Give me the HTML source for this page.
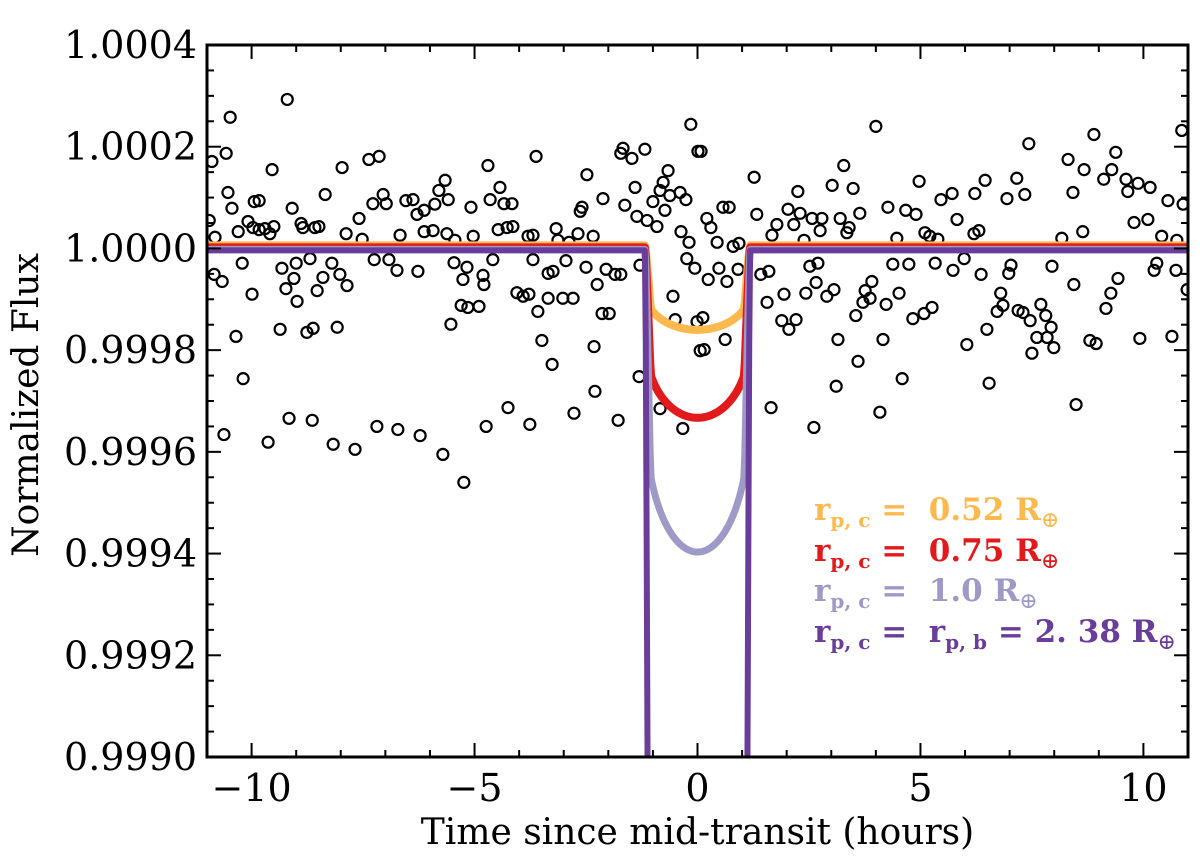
<!DOCTYPE html>
<html><head><meta charset="utf-8"><style>
html,body{margin:0;padding:0;background:#fff;width:1200px;height:863px;overflow:hidden;}
svg{display:block;}
text{font-family:"DejaVu Serif","Liberation Serif",serif;}
</style></head><body>
<svg id="chart" width="1200" height="863" viewBox="0 0 1200 863" xmlns="http://www.w3.org/2000/svg">
<g id="data-layer"></g>
<g id="model-layer"></g>
<g id="axes-layer"></g>
<g id="legend" font-weight="bold" font-size="31">
<text x="814" y="520" fill="#fdb94e">r<tspan font-size="20" dy="7">p, c</tspan><tspan dy="-7"> =&#160;&#160;0.52 R</tspan><tspan font-size="22" dy="7" font-weight="normal">⊕</tspan></text>
<text x="814" y="561" fill="#e31a1c">r<tspan font-size="20" dy="7">p, c</tspan><tspan dy="-7"> =&#160;&#160;0.75 R</tspan><tspan font-size="22" dy="7" font-weight="normal">⊕</tspan></text>
<text x="814" y="601" fill="#9e9ac8">r<tspan font-size="20" dy="7">p, c</tspan><tspan dy="-7"> =&#160;&#160;1.0 R</tspan><tspan font-size="22" dy="7" font-weight="normal">⊕</tspan></text>
<text x="814" y="642" fill="#6a3d9a">r<tspan font-size="20" dy="7">p, c</tspan><tspan dy="-7"> =&#160;&#160;r</tspan><tspan font-size="20" dy="7">p, b</tspan><tspan dy="-7"> = 2. 38 R</tspan><tspan font-size="22" dy="7" font-weight="normal">⊕</tspan></text>
</g>
</svg>
<script>
const timeHours=[-9.20,-10.48,-10.57,-10.89,-9.54,-7.97,-7.37,-7.14,-4.70,-3.62,-1.67,-1.72,-1.47,-1.18,-0.15,0.01,-2.48,-0.66,-10.53,-10.44,-9.94,-9.83,-9.09,-8.35,-7.59,-7.28,-7.05,-6.98,-6.54,-6.38,-6.29,-6.13,-5.89,-5.80,-5.66,-5.59,-5.08,-4.65,-4.43,-4.34,-4.16,-2.63,-2.59,-2.12,-1.40,-1.63,-1.36,-1.13,-0.91,-1.00,-0.84,-0.77,-0.73,-0.62,-0.39,-0.26,-0.37,-0.19,-0.24,-0.06,-10.95,-10.08,-9.97,-9.83,-9.70,-9.59,-9.50,-10.30,-10.82,-8.89,-8.85,-8.58,-8.49,-7.88,-7.52,-6.67,-6.13,-5.93,-5.62,-5.44,-5.03,-4.47,-4.27,-4.14,-3.80,-3.69,-3.17,-3.13,-2.88,-2.68,-2.34,-10.21,-10.84,-10.66,-9.32,-9.00,-9.05,-9.23,-8.98,-9.99,-8.69,-8.40,-8.53,-8.20,-8.02,-7.86,-7.25,-6.92,-6.74,-6.27,-5.46,-5.17,-5.26,-4.81,-4.79,-5.30,-5.15,-4.90,-4.59,-4.05,-3.91,-3.78,-3.69,-3.58,-3.35,-3.24,-3.35,-3.02,-2.79,-2.95,-2.50,-2.25,-2.05,-1.85,-1.72,-2.14,-1.98,-1.29,-0.55,-0.50,-0.01,-10.35,-9.36,-8.76,-8.62,-8.08,-5.53,-3.49,-2.32,-3.26,-10.19,-1.31,-2.30,-4.25,-2.77,-9.16,-8.64,-10.62,-7.19,-6.72,-6.22,-4.74,-3.76,-1.78,-9.63,-8.17,-7.68,-5.71,-5.24,-0.84,-0.33,0.06,0.08,4.00,7.43,8.89,10.86,8.31,8.67,9.38,9.29,9.11,9.61,9.65,9.88,10.15,10.55,10.89,3.28,1.27,3.02,3.49,2.25,4.97,6.45,7.16,7.34,6.22,5.71,5.46,6.94,8.42,0.57,0.71,0.21,0.30,1.33,2.03,2.30,2.16,1.78,1.67,2.57,2.79,2.75,3.20,3.40,3.35,3.64,4.27,4.67,4.90,5.82,5.10,5.21,5.39,6.20,6.31,8.64,8.17,9.79,10.10,10.41,10.75,0.44,0.80,0.93,2.39,4.47,0.24,0.48,0.66,0.91,1.42,1.60,1.56,1.94,2.52,2.70,2.66,2.43,2.90,3.06,1.89,2.21,2.05,3.91,3.76,3.87,3.71,3.55,4.23,4.52,4.38,4.74,5.33,5.73,5.98,6.36,6.98,7.03,7.95,8.44,9.43,9.27,9.16,10.24,10.30,10.73,10.98,6.80,6.85,6.72,7.19,7.30,7.46,7.70,7.81,7.93,7.61,7.84,7.99,7.50,5.26,5.08,4.83,6.49,6.04,8.80,8.94,9.92,10.64,0.12,0.62,0.15,3.15,4.16,3.60,3.11,4.59,6.54,1.65,4.09,2.61,8.49];
const fluxPpm=[293,258,187,171,155,159,175,181,163,181,197,187,177,195,244,191,145,153,110,79,92,94,79,106,59,88,106,88,94,96,67,75,87,114,134,96,81,96,120,88,88,73,81,98,120,85,63,55,43,92,114,130,75,104,110,96,33,12,-20,-39,55,53,41,37,39,29,43,33,22,49,41,41,43,29,18,26,33,35,29,16,24,37,41,43,24,26,39,16,12,29,24,-29,-51,-65,-39,-29,-59,-79,-104,-90,-20,-57,-83,-29,-51,-73,-22,-22,-43,-45,-28,-37,-61,-53,-71,-112,-116,-114,-22,-87,-94,-90,-22,-124,-49,-45,-98,-98,-98,-24,-37,-71,-41,-51,-51,-128,-128,-33,-94,-140,-144,-173,-159,-165,-157,-155,-149,-181,-193,-228,-256,-252,-281,-313,-324,-334,-338,-366,-350,-356,-368,-350,-346,-338,-381,-385,-395,-405,-460,-315,-354,-201,191,240,206,224,232,175,155,189,155,136,136,112,128,120,94,87,163,140,124,118,112,132,134,138,106,108,108,96,98,110,81,81,59,41,67,77,69,47,47,26,59,59,35,59,41,31,69,81,75,67,57,31,24,18,29,35,33,20,51,57,24,16,12,4,10,16,20,-61,-39,-65,-41,-51,-45,-106,-90,-35,-29,-67,-88,-94,-81,-142,-140,-159,-65,-83,-98,-106,-132,-110,-88,-31,-31,-29,-43,-20,-51,-49,-33,-35,-71,-59,-88,-118,-43,-29,-43,-81,-88,-112,-124,-122,-126,-142,-110,-132,-155,-175,-175,-195,-206,-116,-128,-138,-159,-189,-181,-187,-177,-173,-136,-179,-199,-179,-179,-222,-271,-256,-265,-313,-322,-352,-307];
const modelRadii=[0.52,0.75,1.0,2.38];
const modelDepthPpm=[166,335,595,3560];
const modelColors=["#fdb94e","#e31a1c","#9e9ac8","#6a3d9a"];
const xTicks=[-10,-5,0,5,10];
const xTickLabels=["\u221210","\u22125","0","5","10"];
const yTicks=[0.9990,0.9992,0.9994,0.9996,0.9998,1.0000,1.0002,1.0004];
const yTickLabels=["0.9990","0.9992","0.9994","0.9996","0.9998","1.0000","1.0002","1.0004"];

const NS="http://www.w3.org/2000/svg";
const L=207,R=1188,T=45,B=757;
const xMin=-11,xMax=11,yMin=0.9990,yMax=1.0004;
function xs(t){return L+(t-xMin)/(xMax-xMin)*(R-L);}
function ys(f){return B-(f-yMin)/(yMax-yMin)*(B-T);}
function mk(tag,attrs,parent){const e=document.createElementNS(NS,tag);for(const k in attrs)e.setAttribute(k,attrs[k]);parent.appendChild(e);return e;}

const svg=document.getElementById('chart');
const defs=mk('defs',{},svg);
const cp=mk('clipPath',{id:'plotclip'},defs);
mk('rect',{x:L,y:T,width:R-L,height:B-T},cp);

const dl=document.getElementById('data-layer');
dl.setAttribute('clip-path','url(#plotclip)');
for(let i=0;i<timeHours.length;i++){
  const c=mk('circle',{cx:xs(timeHours[i]),cy:ys(1+fluxPpm[i]*1e-6),r:5.5,fill:'none',stroke:'#000','stroke-width':2.2},dl);
  
  
}

const halfDur=1.17, ingress=0.12, u=0.45;
function shape(t){
  const a=Math.abs(t);
  if(a>=halfDur) return 0;
  const inner=halfDur-ingress;
  const z=Math.min(a/halfDur,0.999);
  const mu=Math.sqrt(1-z*z);
  let ld=1-u*(1-mu);
  if(a>inner){ld*=(halfDur-a)/ingress;}
  return ld;
}
const ml=document.getElementById('model-layer');
ml.setAttribute('clip-path','url(#plotclip)');
const offs=[-3,-1,1,2];
const widths=[8,8,7,6];
for(let m=0;m<modelRadii.length;m++){
  let d='';
  for(let k=0;k<=1100;k++){
    const t=xMin+k*(xMax-xMin)/1100;
    const f=1-modelDepthPpm[m]*1e-6*shape(t);
    d+=(k?'L':'M')+xs(t).toFixed(2)+','+(ys(f)+offs[m]).toFixed(2);
  }
  const p=mk('path',{d:d,fill:'none',stroke:modelColors[m],'stroke-width':widths[m],'stroke-linejoin':'round'},ml);
  
  
}

const ax=document.getElementById('axes-layer');
const frame=mk('rect',{x:L,y:T,width:R-L,height:B-T,fill:'none',stroke:'#000','stroke-width':3},ax);


for(let t=-11;t<=11;t++){
  const big=xTicks.indexOf(t)>=0, len=big?14:7;
  mk('line',{x1:xs(t),x2:xs(t),y1:B,y2:B-len,stroke:'#000','stroke-width':2},ax);
  mk('line',{x1:xs(t),x2:xs(t),y1:T,y2:T+len,stroke:'#000','stroke-width':2},ax);
}
for(let i=0;i<xTicks.length;i++){
  const tx=mk('text',{x:xs(xTicks[i]),y:B+44,'text-anchor':'middle','font-size':38},ax);
  tx.textContent=xTickLabels[i];
  
  
}
for(let k=0;k<=28;k++){
  const f=yMin+k*0.00005, big=(k%4===0), len=big?14:7;
  mk('line',{x1:L,x2:L+len,y1:ys(f),y2:ys(f),stroke:'#000','stroke-width':2},ax);
  mk('line',{x1:R,x2:R-len,y1:ys(f),y2:ys(f),stroke:'#000','stroke-width':2},ax);
}
for(let i=0;i<yTicks.length;i++){
  const ty=mk('text',{x:L-10,y:ys(yTicks[i])+13,'text-anchor':'end','font-size':38},ax);
  ty.textContent=yTickLabels[i];
  
  
}
const xt=mk('text',{x:(L+R)/2,y:844,'text-anchor':'middle','font-size':36},ax);
xt.textContent='Time since mid-transit (hours)';


const yt=mk('text',{x:0,y:0,'text-anchor':'middle','font-size':36,transform:'translate(38,'+((T+B)/2+4)+') rotate(-90)'},ax);
yt.textContent='Normalized Flux';


</script>
</body></html>
